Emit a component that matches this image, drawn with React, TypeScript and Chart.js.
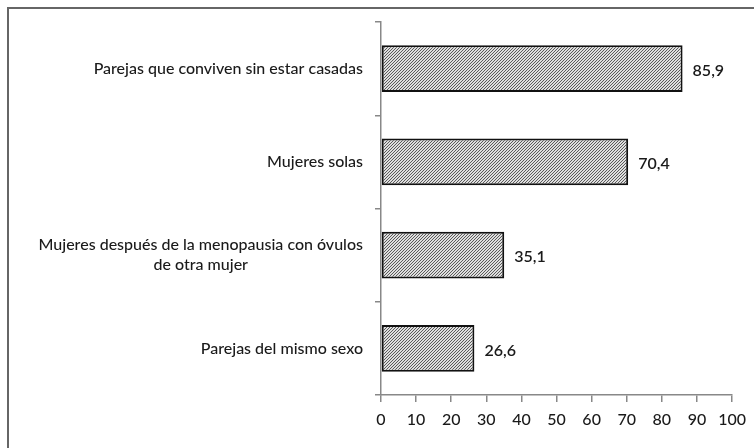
import React, { useEffect, useRef } from "react";
import { Chart, registerables } from "chart.js";

Chart.register(...registerables);

const categories: string[][] = [
  ["Parejas que conviven sin estar casadas"],
  ["Mujeres solas"],
  ["Mujeres después de la menopausia con óvulos", "de otra mujer"],
  ["Parejas del mismo sexo"],
];
const values: number[] = [85.9, 70.4, 35.1, 26.6];
const valueLabels: string[] = ["85,9", "70,4", "35,1", "26,6"];
const xTicks: number[] = [0, 10, 20, 30, 40, 50, 60, 70, 80, 90, 100];

const FONT = "Lato, 'Open Sans', sans-serif";

function makePattern(): CanvasPattern | string {
  const c = document.createElement("canvas");
  c.width = 3;
  c.height = 3;
  const ctx = c.getContext("2d");
  if (!ctx) return "#999";
  ctx.fillStyle = "#dedede";
  ctx.fillRect(0, 0, 3, 3);
  ctx.fillStyle = "#5a5a5a";
  ctx.fillRect(2, 0, 1, 1);
  ctx.fillRect(1, 1, 1, 1);
  ctx.fillRect(0, 2, 1, 1);
  const p = ctx.createPattern(c, "repeat");
  return p || "#999";
}

export default function App() {
  const ref = useRef<HTMLCanvasElement | null>(null);

  useEffect(() => {
    document.body.style.margin = "0";
    const canvas = ref.current;
    if (!canvas) return;

    const labelsPlugin = {
      id: "customLabels",
      afterDraw(chart: any) {
        const ctx = chart.ctx;
        const yScale = chart.scales.y;
        ctx.save();
        ctx.fillStyle = "#1a1a1a";
        ctx.font = `500 16px ${FONT}`;
        ctx.textBaseline = "middle";
        const rightEdge = 363;
        const lineH = 20;
        categories.forEach((lines, i) => {
          const cy = yScale.getPixelForValue(i);
          const widths = lines.map((l) => ctx.measureText(l).width);
          const maxW = Math.max(...widths);
          const centerX = rightEdge - maxW / 2;
          const startY = cy - ((lines.length - 1) * lineH) / 2;
          ctx.textAlign = lines.length > 1 ? "center" : "right";
          lines.forEach((l, j) => {
            ctx.fillText(l, lines.length > 1 ? centerX : rightEdge, startY + j * lineH);
          });
        });
        // value labels
        const meta = chart.getDatasetMeta(0);
        ctx.font = `600 16px ${FONT}`;
        ctx.textAlign = "left";
        meta.data.forEach((bar: any, i: number) => {
          ctx.fillText(valueLabels[i], bar.x + 10, bar.y + 2);
        });
        ctx.restore();
      },
    };

    const chart = new Chart(canvas, {
      type: "bar",
      data: {
        labels: categories.map((c) => c.join(" ")),
        datasets: [
          {
            data: values,
            backgroundColor: makePattern() as any,
            borderColor: "#111",
            borderWidth: 2,
            borderSkipped: false,
            barPercentage: 0.5,
            categoryPercentage: 1,
          },
        ],
      },
      options: {
        indexAxis: "y",
        animation: false,
        responsive: false,
        maintainAspectRatio: false,
        layout: { padding: { left: 0, top: 22, right: 21, bottom: 0 } },
        plugins: { legend: { display: false }, tooltip: { enabled: false } },
        scales: {
          x: {
            min: 0,
            max: 100,
            afterBuildTicks(scale: any) {
              scale.ticks = xTicks.map((v) => ({ value: v }));
            },
            afterFit(scale: any) {
              scale.height = 53;
            },
            grid: {
              drawOnChartArea: false,
              drawTicks: true,
              tickLength: 7,
              color: "#888",
              lineWidth: 1.5,
            },
            border: { display: true, color: "#888", width: 1.5 },
            ticks: {
              color: "#1a1a1a",
              font: { family: FONT, size: 16, weight: 500 },
              padding: 8,
              maxRotation: 0,
              autoSkip: false,
            },
          },
          y: {
            afterFit(scale: any) {
              scale.width = 381;
            },
            grid: {
              drawOnChartArea: false,
              drawTicks: true,
              tickLength: 6,
              color: "#888",
              lineWidth: 1.5,
              offset: true,
            },
            border: { display: true, color: "#888", width: 1.5 },
            ticks: { display: false },
          },
        },
      },
      plugins: [labelsPlugin],
    });

    return () => chart.destroy();
  }, []);

  return (
    <div style={{ position: "absolute", left: 0, top: 0, width: 754, height: 448, overflow: "hidden", background: "#fff" }}>
      <div
        style={{
          position: "absolute",
          left: 7,
          top: 7,
          width: 800,
          height: 500,
          borderLeft: "2px solid #666",
          borderTop: "2px solid #666",
        }}
      />
      <canvas ref={ref} width={754} height={448} style={{ position: "absolute", left: 0, top: 0 }} />
    </div>
  );
}
